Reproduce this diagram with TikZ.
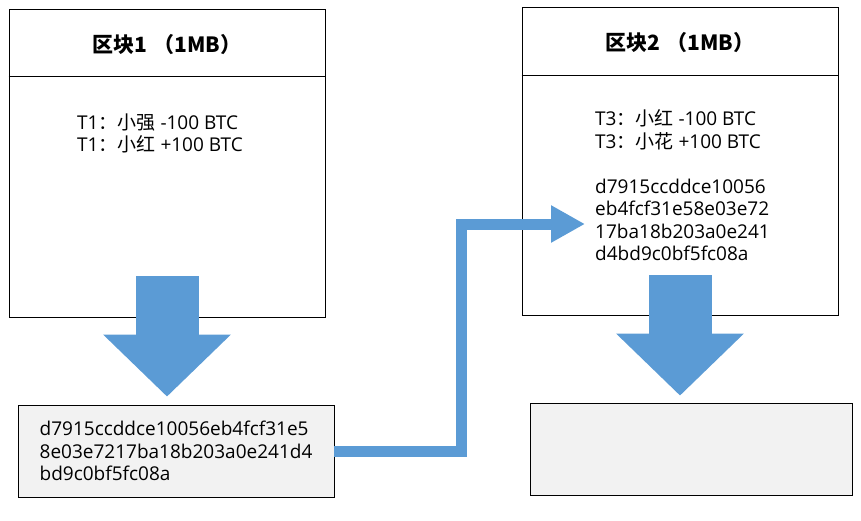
\documentclass[tikz,border=0pt]{standalone}
\usepackage{fontspec}
\setmainfont{Open Sans}
\newfontfamily\cjk{Noto Sans CJK SC}
\usetikzlibrary{arrows.meta}
\definecolor{arrowblue}{HTML}{5B9BD5}
\definecolor{hashgray}{HTML}{F2F2F2}
\newcommand{\zh}[1]{{\cjk #1}}

\begin{document}
\begin{tikzpicture}[x=1pt,y=-1pt,
  blockbox/.style={draw,line width=0.8pt,minimum width=316pt,minimum height=308pt,inner sep=0pt},
  hashbox/.style={draw,line width=0.8pt,fill=hashgray,minimum height=92pt,inner sep=0pt,
                  align=left,font=\fontsize{19}{22.5}\selectfont},
  title/.style={font=\cjk\bfseries\fontsize{21}{24}\selectfont},
  body/.style={align=left,inner sep=0pt,font=\fontsize{19}{22.5}\selectfont},
  fatarrow/.style={arrowblue,line width=63pt,-{Triangle[width=124pt,length=62pt]}},
  thinarrow/.style={arrowblue,line width=11pt,-{Triangle[width=35pt,length=34pt]}},
]
    \useasboundingbox (0,0) rectangle (861,520);

    % the two blocks
    \node [blockbox] (b1) at (167,163) {};
    \node [blockbox] (b2) at (680,161) {};
    \draw [line width=0.8pt] ([yshift=-68pt]b1.north west) -- ([yshift=-68pt]b1.north east);
    \draw [line width=0.8pt] ([yshift=-69pt]b2.north west) -- ([yshift=-69pt]b2.north east);
    \node [title] (t1) at ([yshift=-36pt]b1.north) {区块1\hspace{6pt}（1MB）};
    \node [title] (t2) at ([yshift=-36pt]b2.north) {区块2\hspace{6pt}（1MB）};

    \node [body,anchor=west] (tx1) at (77,133.5)
        {T1\zh{：小强} -100 BTC\\T1\zh{：小红} +100 BTC};
    \node [body,anchor=west] (tx2) at (595,185.5)
        {T3\zh{：小红} -100 BTC\\T3\zh{：小花} +100 BTC\\[22.5pt]
         d7915ccddce10056\\eb4fcf31e58e03e72\\17ba18b203a0e241\\d4bd9c0bf5fc08a};

    % hash boxes
    \node [hashbox,minimum width=316pt] (hash1) at (176,451)
        {d7915ccddce10056eb4fcf31e5\\8e03e7217ba18b203a0e241d4\\bd9c0bf5fc08a};
    \node [hashbox,minimum width=322pt] (hash2) at (691,449) {};

    % arrows
    \coordinate (hashin) at (585,224);
    \draw [fatarrow] ([yshift=41pt]b1.south) -- ([yshift=8pt]b1.south |- hash1.north);
    \draw [fatarrow] ([yshift=40pt]b2.south) -- ([yshift=7pt]b2.south |- hash2.north);
    \draw [thinarrow] (hash1.east) -- ++(127,0) |- (hashin);
\end{tikzpicture}
\end{document}
